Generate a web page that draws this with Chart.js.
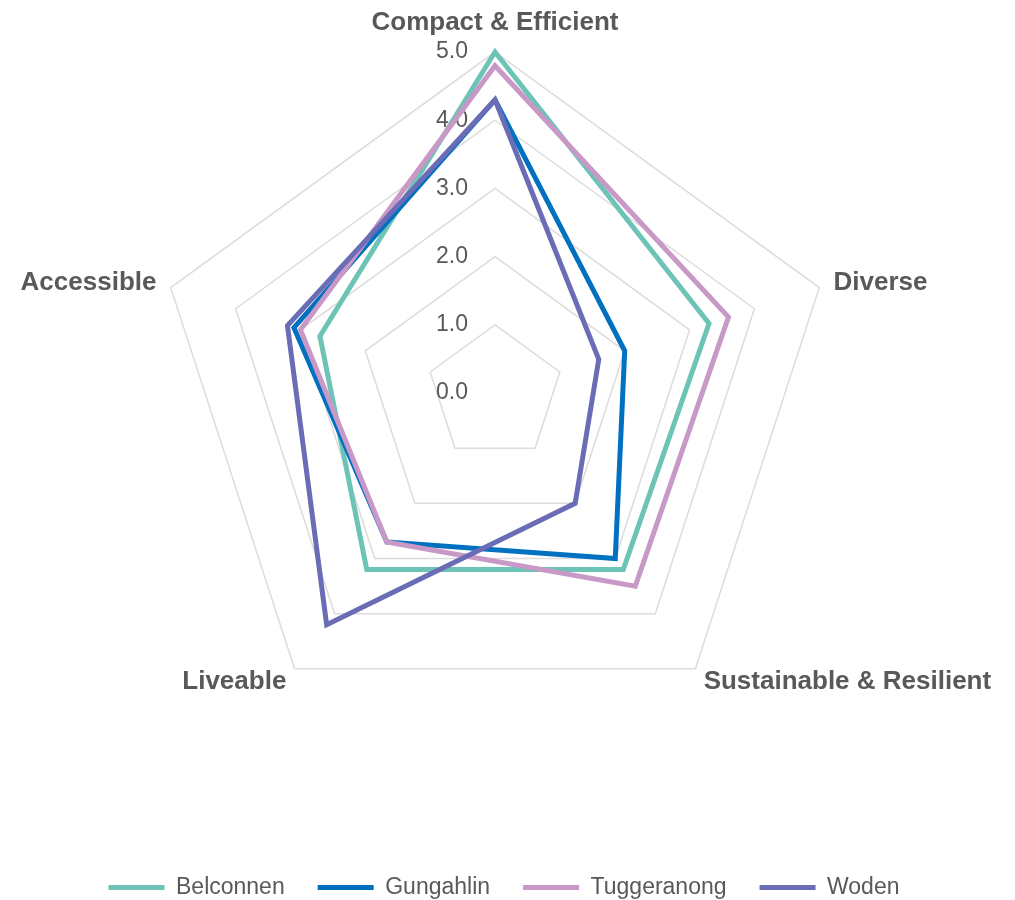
<!DOCTYPE html>
<html>
<head>
<meta charset="utf-8">
<title>Radar</title>
<script src="https://cdn.jsdelivr.net/npm/chart.js@4/dist/chart.umd.min.js"></script>
<style>
  html, body { margin: 0; padding: 0; background: #fff; }
  #wrap { width: 1015px; height: 900px; }
</style>
</head>
<body>
<div id="wrap"><canvas id="radar"></canvas></div>
<script>
// categories (axes) and series values
const axisLabels = ["Compact & Efficient", "Diverse", "Sustainable & Resilient", "Liveable", "Accessible"];
const belconnen   = [5.0, 3.3, 3.2, 3.2, 2.7];
const gungahlin   = [4.3, 2.0, 3.0, 2.7, 3.1];
const tuggeranong = [4.8, 3.6, 3.5, 2.7, 3.0];
const woden       = [4.3, 1.6, 2.0, 4.2, 3.2];
const tickValues  = [0, 1, 2, 3, 4, 5];
const tickLabels  = ["0.0", "1.0", "2.0", "3.0", "4.0", "5.0"];

const FONT = '"Liberation Sans", Arial, sans-serif';
const TEXT = "#595959";

// tick labels sit left of the vertical axis like Excel does
const tickLabelPlugin = {
    id: "tickLabels",
    beforeDatasetsDraw(chart) {
        const r = chart.scales.r;
        const ctx = chart.ctx;
        ctx.save();
        ctx.font = "23px " + FONT;
        ctx.fillStyle = TEXT;
        ctx.textAlign = "right";
        ctx.textBaseline = "middle";
        tickValues.forEach((v, i) => {
            const d = r.getDistanceFromCenterForValue(v);
            ctx.fillText(tickLabels[i], r.xCenter - 27, r.yCenter - d);
        });
        ctx.restore();
    }
};

// nudge the legend row a bit lower, closer to the bottom edge
const legendShift = {
    id: "legendShift",
    afterLayout(chart) {
        const lg = chart.legend;
        if (!lg) return;
        lg.top += 9;
        lg.bottom += 9;
    }
};

function series(label, data, color, order) {
    return {
        label: label,
        data: data,
        borderColor: color,
        backgroundColor: color,
        borderWidth: 5,
        borderJoinStyle: "miter",
        borderCapStyle: "round",
        pointRadius: 0,
        pointHoverRadius: 0,
        fill: false,
        order: order
    };
}

// label gap and line height per axis, tuned so labels sit where Excel puts them
const labelPad = [23.6, 15, 14, 14, 15];
const labelLineHeight = [0.44, 0.01, 0.13, 0.13, 0.01];

const ctx = document.getElementById("radar").getContext("2d");
new Chart(ctx, {
    type: "radar",
    data: {
        labels: axisLabels,
        datasets: [
            series("Belconnen", belconnen, "#6dc3b5", 4),
            series("Gungahlin", gungahlin, "#0070c0", 3),
            series("Tuggeranong", tuggeranong, "#c898c7", 2),
            series("Woden", woden, "#6a6cb5", 1)
        ]
    },
    options: {
        responsive: true,
        maintainAspectRatio: false,
        animation: false,
        layout: { padding: { top: 0, bottom: 0, right: 7, left: 0 } },
        scales: {
            r: {
                min: 0,
                max: 5,
                ticks: { stepSize: 1, display: false },
                grid: { color: "#dcdcdc", lineWidth: 1.5 },
                angleLines: { display: false },
                pointLabels: {
                    color: TEXT,
                    padding: (c) => labelPad[c.index],
                    font: (c) => ({ family: FONT, size: 26, weight: "bold", lineHeight: labelLineHeight[c.index] })
                }
            }
        },
        plugins: {
            tooltip: { enabled: false },
            legend: {
                position: "bottom",
                title: { display: true, text: " ", font: { size: 10 }, padding: { top: 69, bottom: 0 } },
                labels: {
                    color: TEXT,
                    font: { family: FONT, size: 23 },
                    usePointStyle: true,
                    pointStyle: "line",
                    pointStyleWidth: 56,
                    padding: 33,
                    sort: (a, b) => a.datasetIndex - b.datasetIndex
                }
            }
        }
    },
    plugins: [tickLabelPlugin, legendShift]
});
</script>
</body>
</html>
